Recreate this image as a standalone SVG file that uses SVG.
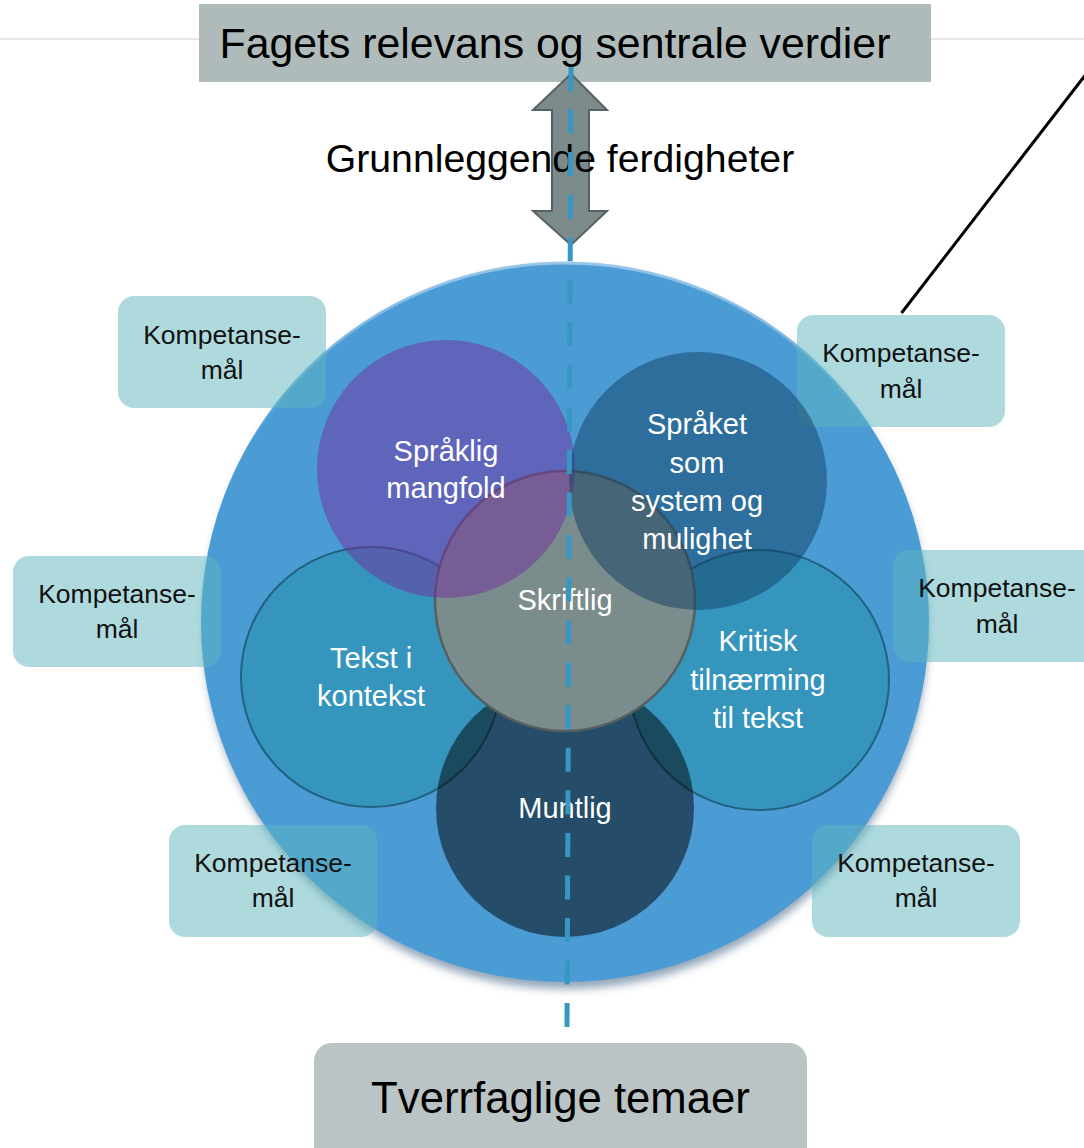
<svg xmlns="http://www.w3.org/2000/svg" width="1084" height="1148" viewBox="0 0 1084 1148">
  <defs>
    <style>
      .t { font-family: "Liberation Sans", Arial, sans-serif; }
      .ct { font-family: "Liberation Sans", Arial, sans-serif; font-size: 29px; fill: #ffffff; text-anchor: middle; }
      .kt { font-family: "Liberation Sans", Arial, sans-serif; font-size: 26.5px; fill: #111111; text-anchor: middle; }
      .kbox { fill: #5db6be; fill-opacity: 0.5; }
      .ring { stroke: #22617f; stroke-width: 2; }
    </style>
    <filter id="shadow" x="-10%" y="-10%" width="120%" height="125%">
      <feGaussianBlur stdDeviation="4"/>
    </filter>
    <linearGradient id="rim" x1="0" y1="0" x2="0" y2="1">
      <stop offset="0" stop-color="#9fcaea" stop-opacity="0.9"/>
      <stop offset="0.25" stop-color="#9fcaea" stop-opacity="0"/>
      <stop offset="1" stop-color="#9fcaea" stop-opacity="0"/>
    </linearGradient>
  </defs>

  <rect width="1084" height="1148" fill="#ffffff"/>
  <line x1="0" y1="39" x2="1084" y2="39" stroke="#dedede" stroke-width="1.5"/>

  <g id="title">
    <rect x="199" y="4" width="732" height="78" fill="#afbbba"/>
    <text class="t" x="555" y="58" font-size="42.8" text-anchor="middle" fill="#000">Fagets relevans og sentrale verdier</text>
  </g>

  <g id="big-circle">
    <ellipse cx="566" cy="629" rx="362" ry="360" fill="#3b5f82" fill-opacity="0.55" filter="url(#shadow)"/>
    <ellipse cx="565" cy="622" rx="364" ry="360" fill="#4b9bd5"/>
    <ellipse cx="565" cy="622" rx="363" ry="359" fill="none" stroke="url(#rim)" stroke-width="3"/>
  </g>

  <g id="kompetanse-boxes">
    <g id="komp-top-left">
      <rect class="kbox" x="118" y="296" width="208" height="112" rx="16"/>
      <text class="kt" x="222" y="344">Kompetanse-</text>
      <text class="kt" x="222" y="379">mål</text>
    </g>
    <g id="komp-mid-left">
      <rect class="kbox" x="13" y="556" width="208" height="111" rx="16"/>
      <text class="kt" x="117" y="603">Kompetanse-</text>
      <text class="kt" x="117" y="638">mål</text>
    </g>
    <g id="komp-bottom-left">
      <rect class="kbox" x="169" y="825" width="208" height="112" rx="16"/>
      <text class="kt" x="273" y="872">Kompetanse-</text>
      <text class="kt" x="273" y="907">mål</text>
    </g>
    <g id="komp-top-right">
      <rect class="kbox" x="797" y="315" width="208" height="112" rx="16"/>
      <text class="kt" x="901" y="362">Kompetanse-</text>
      <text class="kt" x="901" y="398">mål</text>
    </g>
    <g id="komp-mid-right">
      <rect class="kbox" x="893" y="550" width="208" height="112" rx="16"/>
      <text class="kt" x="997" y="597">Kompetanse-</text>
      <text class="kt" x="997" y="633">mål</text>
    </g>
    <g id="komp-bottom-right">
      <rect class="kbox" x="812" y="825" width="208" height="112" rx="16"/>
      <text class="kt" x="916" y="872">Kompetanse-</text>
      <text class="kt" x="916" y="907">mål</text>
    </g>
  </g>

  <g id="circle-tekst">
    <circle cx="371" cy="677" r="130" fill="#3595bd" class="ring"/>
  </g>
  <g id="circle-kritisk">
    <circle cx="759" cy="680" r="130" fill="#3595bd" class="ring"/>
  </g>
  <g id="circle-muntlig">
    <circle cx="565" cy="808" r="129" fill="#000000" fill-opacity="0.5"/>
  </g>
  <g id="circle-skriftlig">
    <circle cx="565" cy="601" r="130" fill="#7b8c8c" stroke="#565f60" stroke-width="2.5"/>
  </g>
  <g id="circle-spraklig">
    <circle cx="446" cy="469" r="129" fill="#742ca0" fill-opacity="0.49"/>
  </g>
  <g id="circle-spraket">
    <circle cx="698" cy="481" r="129" fill="#104061" fill-opacity="0.49"/>
  </g>

  <g id="circle-labels">
    <text class="ct" x="446" y="461">Språklig</text>
    <text class="ct" x="446" y="498">mangfold</text>
    <text class="ct" x="697" y="434">Språket</text>
    <text class="ct" x="697" y="473">som</text>
    <text class="ct" x="697" y="511">system og</text>
    <text class="ct" x="697" y="549">mulighet</text>
    <text class="ct" x="565" y="610">Skriftlig</text>
    <text class="ct" x="371" y="668">Tekst i</text>
    <text class="ct" x="371" y="706">kontekst</text>
    <text class="ct" x="758" y="651">Kritisk</text>
    <text class="ct" x="758" y="690">tilnærming</text>
    <text class="ct" x="758" y="728">til tekst</text>
    <text class="ct" x="565" y="818">Muntlig</text>
  </g>

  <g id="bottom-box">
    <rect x="314" y="1043" width="493" height="125" rx="18" fill="#bbc4c5"/>
    <text class="t" x="560.5" y="1113" font-size="43.7" text-anchor="middle" fill="#000">Tverrfaglige temaer</text>
  </g>

  <g id="connectors">
    <polygon points="571,74 607,110 589,110 589,211 607,211 571,245 533,211 552,211 552,110 533,110" fill="#7b8b8b" stroke="#566262" stroke-width="2" stroke-linejoin="miter"/>
    <text class="t" x="560" y="172" font-size="39.2" text-anchor="middle" fill="#000">Grunnleggende ferdigheter</text>
    <line x1="571" y1="67" x2="567" y2="1027" stroke="#3797c3" stroke-width="5" stroke-dasharray="24 18.55"/>
    <line x1="901.5" y1="313" x2="1100" y2="56" stroke="#000000" stroke-width="3"/>
  </g>
</svg>
